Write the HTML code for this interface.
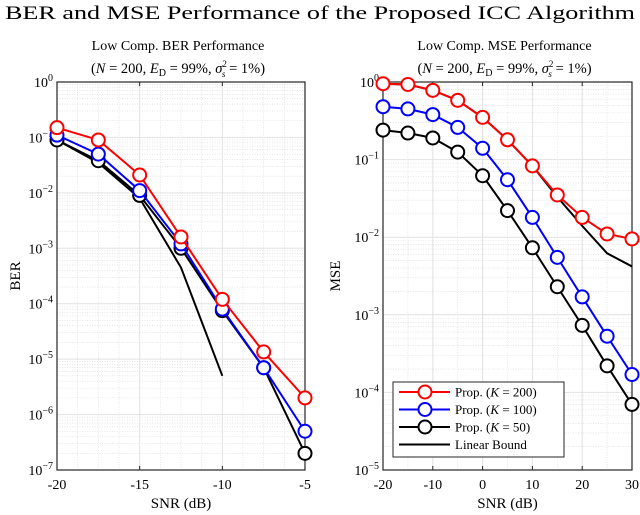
<!DOCTYPE html>
<html><head><meta charset="utf-8"><style>
html,body{margin:0;padding:0;background:#fff;}
svg{display:block;font-family:"Liberation Serif",serif;}
</style></head><body>
<svg id="fig" width="640" height="515" viewBox="0 0 640 515">
<text x="320" y="19" text-anchor="middle" font-size="18.5" textLength="630" lengthAdjust="spacingAndGlyphs">BER and MSE Performance of the Proposed ICC Algorithm</text>
</svg>
<script>
const berX=[-20,-17.5,-15,-12.5,-10,-7.5,-5];
const berRed=[0.15,0.09,0.021,0.0016,1.2e-4,1.35e-5,2e-6];
const berBlue=[0.11,0.05,0.011,0.0012,8e-5,7e-6,5e-7];
const berBlack=[0.09,0.038,0.009,0.001,7.5e-5,7e-6,2e-7];
const berBoundX=[-20,-17.5,-15,-12.5,-10];
const berBound=[0.09,0.035,0.008,4.5e-4,5e-6];
const berXTicks=[-20,-15,-10,-5];
const mseX=[-20,-15,-10,-5,0,5,10,15,20,25,30];
const mseRed=[0.95,0.93,0.78,0.58,0.35,0.18,0.083,0.035,0.018,0.011,0.0095];
const mseBlue=[0.48,0.45,0.38,0.26,0.14,0.055,0.018,0.0055,0.0017,0.00053,0.00017];
const mseBlack=[0.24,0.22,0.19,0.125,0.062,0.022,0.0073,0.0023,0.00073,0.00022,0.00007];
const mseBound=[0.95,0.93,0.78,0.58,0.35,0.18,0.083,0.033,0.014,0.0062,0.0042];
const mseXTicks=[-20,-10,0,10,20,30];
const legendLabels=["Prop. (K = 200)","Prop. (K = 100)","Prop. (K = 50)","Linear Bound"];

const NS="http://www.w3.org/2000/svg";
const svg=document.getElementById('fig');
function mk(tag,attrs,parent,txt){const e=document.createElementNS(NS,tag);for(const k in attrs)e.setAttribute(k,attrs[k]);if(txt!==undefined)e.textContent=txt;(parent||svg).appendChild(e);return e;}

function panel(o){
  const g=mk('g',{});
  
  
  const sx=v=>o.x0+(v-o.xmin)/(o.xmax-o.xmin)*(o.x1-o.x0);
  const sy=v=>o.y1-(Math.log10(v)-o.emin)/(o.emax-o.emin)*(o.y1-o.y0);
  mk('rect',{x:o.x0,y:o.y0,width:o.x1-o.x0,height:o.y1-o.y0,fill:'#fff'},g);
  // minor grid
  for(let e=o.emin;e<o.emax;e++)for(let m=2;m<=9;m++){const y=sy(m*Math.pow(10,e));mk('line',{x1:o.x0,x2:o.x1,y1:y,y2:y,stroke:'#d8d8d8','stroke-width':0.6,'stroke-dasharray':'1,1.5'},g);}
  for(let v=o.xmin+o.minorStep;v<o.xmax;v+=o.minorStep){const x=sx(v);mk('line',{x1:x,x2:x,y1:o.y0,y2:o.y1,stroke:'#d8d8d8','stroke-width':0.6,'stroke-dasharray':'1,1.5'},g);}
  // major grid
  for(let e=o.emin;e<=o.emax;e++){const y=sy(Math.pow(10,e));mk('line',{x1:o.x0,x2:o.x1,y1:y,y2:y,stroke:'#e2e2e2','stroke-width':1},g);
    const t=mk('text',{x:o.x0-4,y:y+5,'text-anchor':'end','font-size':14},g);
    
    t.appendChild(document.createTextNode('10'));mk('tspan',{dy:-6,'font-size':10},t,String(e).replace('-','\u2212'));}
  o.xticks.forEach(v=>{const x=sx(v);mk('line',{x1:x,x2:x,y1:o.y0,y2:o.y1,stroke:'#e2e2e2','stroke-width':1},g);
    mk('line',{x1:x,x2:x,y1:o.y1,y2:o.y1-4,stroke:'#222'},g);mk('line',{x1:x,x2:x,y1:o.y0,y2:o.y0+4,stroke:'#222'},g);
    const t=mk('text',{x:x,y:o.y1+19,'text-anchor':'middle','font-size':14},g,String(v));
    });
  mk('rect',{x:o.x0,y:o.y0,width:o.x1-o.x0,height:o.y1-o.y0,fill:'none',stroke:'#262626','stroke-width':1.2},g);
  let t=mk('text',{x:(o.x0+o.x1)/2,y:508,'text-anchor':'middle','font-size':15},g,'SNR (dB)');
  
  const yc=(o.y0+o.y1)/2;
  t=mk('text',{x:o.ylabX,y:yc,'text-anchor':'middle','font-size':15,transform:`rotate(-90 ${o.ylabX} ${yc})`},g,o.ylab);
  
  const cx=(o.x0+o.x1)/2-3;
  t=mk('text',{x:cx,y:50,'text-anchor':'middle','font-size':14},g,o.title);
  
  t=mk('text',{x:cx,y:73,'text-anchor':'middle','font-size':14.5},g);
  
  t.innerHTML='(<tspan font-style="italic">N</tspan> = 200, <tspan font-style="italic">E</tspan><tspan font-size="10" dy="3">D</tspan><tspan dy="-3"> = 99%, </tspan><tspan font-style="italic">σ</tspan><tspan font-size="9" dy="-6">2</tspan><tspan font-size="9" dx="-5" dy="10" font-style="italic">s</tspan><tspan dy="-4"> = 1%)</tspan>';
  // series
  o.series.forEach(s=>{
    const pts=s.x.map((v,i)=>sx(v)+','+sy(s.y[i])).join(' ');
    const pl=mk('polyline',{points:pts,fill:'none',stroke:s.c,'stroke-width':2},g);
    
    if(s.m)s.x.forEach((v,i)=>{const c=mk('circle',{cx:sx(v),cy:sy(s.y[i]),r:6.5,fill:'#fff',stroke:s.c,'stroke-width':2},g);
      });
  });
  return g;
}
panel({name:'ber-panel',x0:57,x1:305,y0:82,y1:470,xmin:-20,xmax:-5,emin:-7,emax:0,minorStep:1.25,xticks:berXTicks,ylab:'BER',ylabX:20,title:'Low Comp. BER Performance',
 series:[{x:berBoundX,y:berBound,c:'#000',m:false,name:'ber-linear-bound'},{x:berX,y:berBlack,c:'#000',m:true,name:'ber-k50'},{x:berX,y:berBlue,c:'#0000ff',m:true,name:'ber-k100'},{x:berX,y:berRed,c:'#ff0000',m:true,name:'ber-k200'}]});
panel({name:'mse-panel',x0:383,x1:632,y0:82,y1:470,xmin:-20,xmax:30,emin:-5,emax:0,minorStep:5,xticks:mseXTicks,ylab:'MSE',ylabX:340,title:'Low Comp. MSE Performance',
 series:[{x:mseX,y:mseBound,c:'#000',m:false,name:'mse-linear-bound'},{x:mseX,y:mseBlack,c:'#000',m:true,name:'mse-k50'},{x:mseX,y:mseBlue,c:'#0000ff',m:true,name:'mse-k100'},{x:mseX,y:mseRed,c:'#ff0000',m:true,name:'mse-k200'}]});
// legend
const lg=mk('g',{});


mk('rect',{x:393,y:382,width:171,height:75,fill:'#fff',stroke:'#262626','stroke-width':1},lg);
const lc=['#ff0000','#0000ff','#000','#000'];
legendLabels.forEach((l,i)=>{const y=392+i*17.5;
  const e=mk('g',{},lg);
  
  
  mk('line',{x1:399,x2:450,y1:y,y2:y,stroke:lc[i],'stroke-width':2},e);
  if(i<3)mk('circle',{cx:425,cy:y,r:6.5,fill:'#fff',stroke:lc[i],'stroke-width':2},e);
  const t=mk('text',{x:455,y:y+4.5,'font-size':13},e);
  if(i<3){const k=l.match(/\d+\)$/)[0];t.innerHTML='Prop. (<tspan font-style="italic">K</tspan> = '+k;}else t.textContent=l;
});
</script>
</body></html>
